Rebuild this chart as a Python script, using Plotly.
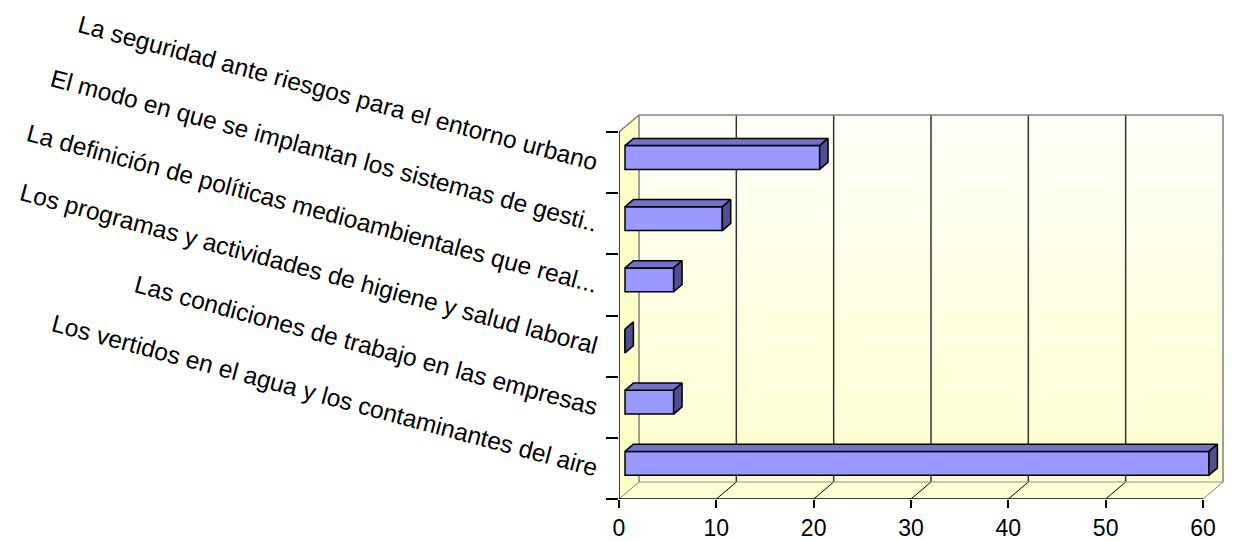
import plotly.graph_objects as go

# ---- data ----
categories = [
    "La seguridad ante riesgos para el entorno urbano",
    "El modo en que se implantan los sistemas de gesti..",
    "La definición de políticas medioambientales que real...",
    "Los programas y actividades de higiene y salud laboral",
    "Las condiciones de trabajo en las empresas",
    "Los vertidos en el agua y los contaminantes del aire",
]
values = [20, 10, 5, 0, 5, 60]
x_ticks = [0, 10, 20, 30, 40, 50, 60]

# ---- geometry / style ----
# page body has an 8px margin, so the figure is drawn 8px right/down
OFF = 8
W, H = 1233 - OFF, 541 - OFF
L_PX, R_PX, T_PX, B_PX = 619 - OFF, 1225 - OFF, 113 - OFF, 499 - OFF
FRONT_W, FRONT_H = 584, 367
XMAX = 60
NCAT = len(categories)
PPX = FRONT_W / XMAX
PPY = FRONT_H / NCAT
DXd = 20 / PPX
DYd = -17 / PPY
BAR_OFF = 0.3
BAR_DEP = 0.42
BAR_W = 0.39

ylo, yhi = -0.5, NCAT - 0.5
x_range = [0, (R_PX - L_PX) / PPX]
y_range = [yhi, yhi - (B_PX - T_PX) / PPY]

FONT = "Liberation Sans, Arial, sans-serif"

shapes = []

def poly(pts, fill, line="rgba(0,0,0,0)", lw=0, layer="below"):
    d = "M " + " L ".join(f"{x},{y}" for x, y in pts) + " Z"
    shapes.append(dict(type="path", path=d, xref="x", yref="y",
                       fillcolor=fill, line=dict(color=line, width=lw), layer=layer))

def seg(x0, y0, x1, y1, color, lw):
    shapes.append(dict(type="line", x0=x0, y0=y0, x1=x1, y1=y1, xref="x", yref="y",
                       line=dict(color=color, width=lw), layer="below"))

# back wall gradient (strips)
N = 48
top_c, bot_c = (255, 255, 248), (255, 255, 206)
for k in range(N):
    y0 = ylo + DYd + (yhi - ylo) * k / N
    y1 = ylo + DYd + (yhi - ylo) * (k + 1) / N + 0.002
    t = (k + 0.5) / N
    c = tuple(round(top_c[j] + (bot_c[j] - top_c[j]) * t) for j in range(3))
    poly([(DXd, y0), (XMAX + DXd, y0), (XMAX + DXd, y1), (DXd, y1)], f"rgb{c}")

# left wall
poly([(0, ylo), (0, yhi), (DXd, yhi + DYd), (DXd, ylo + DYd)], "rgb(255,255,200)")
# floor
poly([(0, yhi), (XMAX, yhi), (XMAX + DXd, yhi + DYd), (DXd, yhi + DYd)], "rgb(255,255,212)")

for v in x_ticks:
    col = "#808080" if v in (0, XMAX) else "#333333"
    seg(v + DXd, ylo + DYd, v + DXd, yhi + DYd, col, 1.5)
    colf = "#808080" if v in (0, XMAX) else "#000000"
    seg(v, yhi, v + DXd, yhi + DYd, colf, 1)
seg(DXd, ylo + DYd, XMAX + DXd, ylo + DYd, "#808080", 1.5)
seg(DXd, yhi + DYd, XMAX + DXd, yhi + DYd, "#909090", 1)
seg(0, ylo, DXd, ylo + DYd, "#808080", 1.5)
seg(0, ylo, 0, yhi, "#000000", 1.5)
seg(0, yhi, XMAX, yhi, "#000000", 1.5)

fig = go.Figure()

ypos = [i + BAR_OFF * DYd for i in range(NCAT)]
fig.add_trace(go.Bar(
    orientation="h", y=ypos, x=values, base=[BAR_OFF * DXd] * NCAT, width=BAR_W,
    marker=dict(color="#9999FF", line=dict(color="#000000", width=1.5)),
    hoverinfo="skip",
))

ddx, ddy = BAR_DEP * DXd, BAR_DEP * DYd
tx, ty, sx, sy = [], [], [], []
for yc, v in zip(ypos, values):
    x0 = BAR_OFF * DXd
    x1 = x0 + v
    yt, yb = yc - BAR_W / 2, yc + BAR_W / 2
    if v > 0:
        tx += [x0, x1, x1 + ddx, x0 + ddx, x0, None]
        ty += [yt, yt, yt + ddy, yt + ddy, yt, None]
    sx += [x1, x1, x1 + ddx, x1 + ddx, x1, None]
    sy += [yt, yb, yb + ddy, yt + ddy, yt, None]

fig.add_trace(go.Scatter(x=tx, y=ty, mode="lines", fill="toself",
                         fillcolor="#7272C8", line=dict(color="#000000", width=1.5),
                         hoverinfo="skip"))
fig.add_trace(go.Scatter(x=sx, y=sy, mode="lines", fill="toself",
                         fillcolor="#4F4F8F", line=dict(color="#000000", width=1.5),
                         hoverinfo="skip"))

fig.update_layout(
    width=W, height=H,
    margin=dict(l=L_PX, r=W - R_PX, t=T_PX, b=H - B_PX, autoexpand=False),
    paper_bgcolor="white", plot_bgcolor="white",
    showlegend=False, hovermode=False,
    font=dict(family=FONT, size=23, color="black"),
    shapes=shapes,
    xaxis=dict(range=x_range, tickmode="array", tickvals=x_ticks,
               ticks="outside", ticklen=8, tickwidth=1.5, tickcolor="black",
               showgrid=False, zeroline=False, showline=False, automargin=False,
               tickfont=dict(family=FONT, size=23, color="black"), fixedrange=True),
    yaxis=dict(range=y_range, tickmode="array", tickvals=list(range(NCAT)),
               ticktext=categories, ticks="", tickangle=15,
               minor=dict(tickmode="array", tickvals=[i - 0.5 for i in range(NCAT + 1)],
                          ticks="outside", ticklen=12, tickwidth=1.5, tickcolor="black",
                          showgrid=False),
               showgrid=False, zeroline=False, showline=False, automargin=False,
               ticklabelstandoff=20,
               tickfont=dict(family=FONT, size=24.5, color="black"), fixedrange=True),
)

fig.write_html("out.html")
